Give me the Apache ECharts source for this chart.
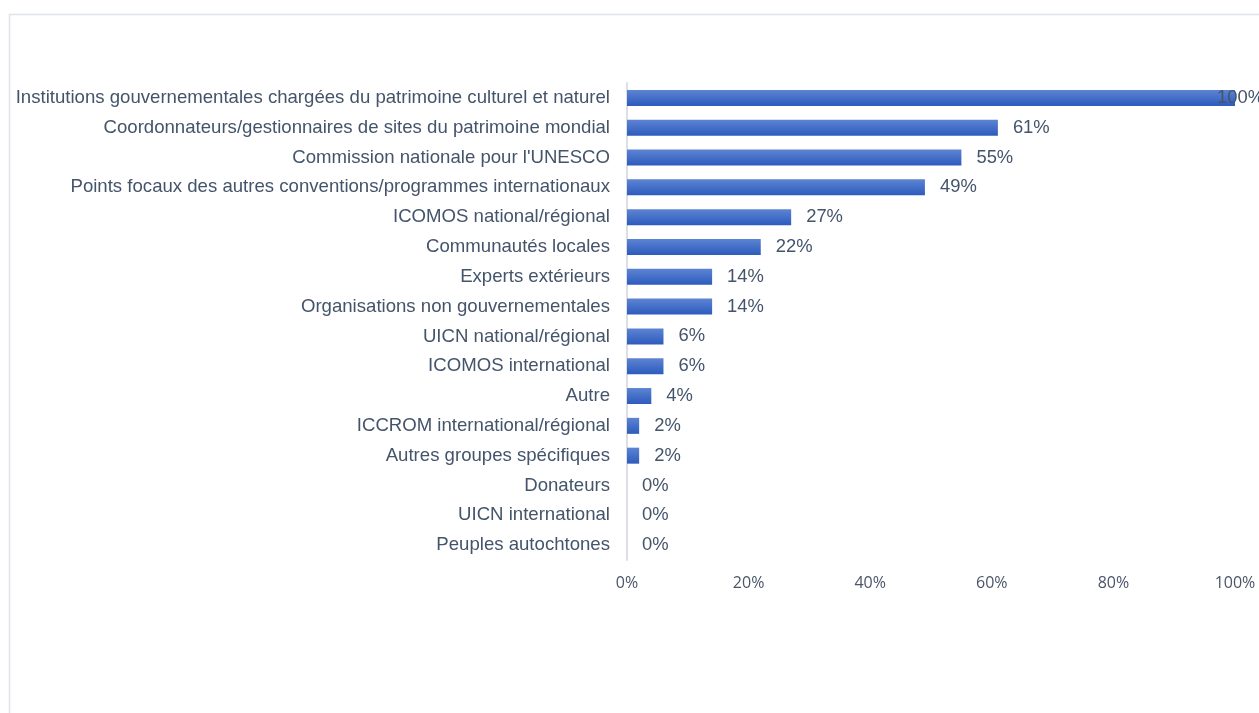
<!DOCTYPE html>
<html>
<head>
<meta charset="utf-8">
<script src="https://cdn.jsdelivr.net/npm/echarts@6/dist/echarts.min.js"></script>
<style>
  html, body { margin: 0; padding: 0; background: #fff; }
  #chart { width: 1259px; height: 713px; }
</style>
</head>
<body>
<div id="chart"></div>
<script>
// categories, top to bottom
const categories = [
  'Institutions gouvernementales chargées du patrimoine culturel et naturel',
  'Coordonnateurs/gestionnaires de sites du patrimoine mondial',
  "Commission nationale pour l'UNESCO",
  'Points focaux des autres conventions/programmes internationaux',
  'ICOMOS national/régional',
  'Communautés locales',
  'Experts extérieurs',
  'Organisations non gouvernementales',
  'UICN national/régional',
  'ICOMOS international',
  'Autre',
  'ICCROM international/régional',
  'Autres groupes spécifiques',
  'Donateurs',
  'UICN international',
  'Peuples autochtones'
]
const shares = [1.00, 0.61, 0.55, 0.49, 0.27, 0.22, 0.14, 0.14, 0.06, 0.06, 0.04, 0.02, 0.02, 0, 0, 0]
const xTicks = [0, 0.2, 0.4, 0.6, 0.8, 1.0]

const textColor = '#44546a'
const pct = v => Math.round(v * 100) + '%'

const chart = echarts.init(document.getElementById('chart'))
chart.setOption({
  backgroundColor: '#fff',
  animation: false,
  graphic: [{
    type: 'rect',
    shape: { x: 9.5, y: 14.5, width: 1400, height: 900 },
    style: { fill: 'none', stroke: '#dfe3ea', lineWidth: 1.5 },
    silent: true
  }],
  grid: {
    left: 627,
    right: 24,
    top: 83,
    bottom: 153,
    containLabel: false
  },
  xAxis: {
    type: 'value',
    min: xTicks[0],
    max: xTicks[xTicks.length - 1],
    interval: 0.2,
    axisLine: { show: false },
    axisTick: { show: false },
    splitLine: { show: false },
    axisLabel: {
      formatter: pct,
      color: '#4a5568',
      fontFamily: 'Open Sans',
      fontSize: 16,
      margin: 15
    }
  },
  yAxis: {
    type: 'category',
    inverse: true,
    data: categories,
    axisLine: { show: true, lineStyle: { color: '#dcdfe6', width: 2 } },
    axisTick: { show: false },
    axisLabel: {
      color: textColor,
      fontFamily: 'Liberation Sans, Arial',
      fontSize: 18.6,
      margin: 17
    }
  },
  series: [{
    type: 'bar',
    barWidth: 16,
    data: shares.map((v, i) => i === 0
      ? { value: v, label: { offset: [-33, 0] } }
      : v),
    itemStyle: {
      color: new echarts.graphic.LinearGradient(0, 0, 0, 1, [
        { offset: 0, color: '#5d84d3' },
        { offset: 1, color: '#2d5bbd' }
      ])
    },
    label: {
      show: true,
      position: 'right',
      distance: 15,
      formatter: p => pct(p.value),
      color: textColor,
      fontFamily: 'Liberation Sans, Arial',
      fontSize: 18.4
    }
  }]
})
</script>
</body>
</html>
